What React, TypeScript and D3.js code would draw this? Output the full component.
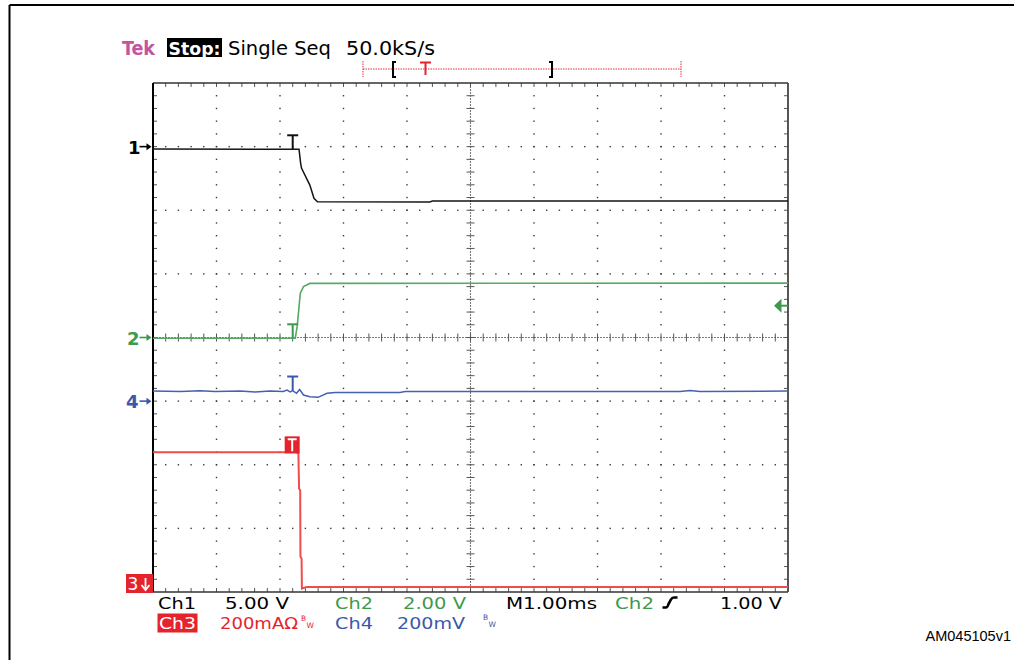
import React, { useEffect } from "react";
import * as d3 from "d3";

// ---- Data (oscilloscope capture, time in ms) ----
const ch1Time = [0, 2.3, 2.325, 2.34, 2.47, 2.535, 2.59, 4.36, 4.4, 10];
const ch1Volts = [-0.19, -0.21, -1.31, -1.71, -3.02, -4.06, -4.33, -4.35, -4.28, -4.28];

const ch2Time = [0, 2.24, 2.27, 2.3, 2.32, 2.37, 2.47, 10];
const ch2Volts = [-0.025, -0.025, 0.34, 0.97, 1.39, 1.6, 1.7, 1.71];

const ch3Time = [0, 2.26, 2.29, 2.3, 2.318, 2.322, 2.34, 2.345, 2.42, 10];
const ch3mA = [459, 459, 455, 345, 340, 131, 125, 31, 36, 36];

const ch4Time = [0, 0.43, 0.74, 0.98, 1.37, 1.61, 1.84, 2.05, 2.11, 2.16, 2.2, 2.26, 2.31, 2.37, 2.47, 2.6, 2.74, 2.87, 3.89, 3.97, 4.05, 8.3, 8.46, 8.61, 10];
const ch4mV = [31.7, 30.2, 32.4, 30.2, 31.7, 28.6, 31.7, 30.2, 34.9, 29.2, 33.3, 24.5, 36.5, 19.2, 13.8, 11.9, 24.5, 27, 27, 30.2, 30.2, 30.2, 33.3, 30.2, 31.7];

// channel scales (units per division) and ground positions (divisions from centre)
const channelScale = [5, 2, 200, 200];
const channelPos = [3.0, 0, -4.1, -1.0];
const triggerTimeMs = 2.2;
const triggerLevelV = 1.0;

const topLabels = ["Tek", "Stop:", "Single Seq", "50.0kS/s"];
const row1Labels = ["Ch1", "5.00 V", "Ch2", "2.00 V", "M1.00ms", "Ch2", "1.00 V"];
const row2Labels = ["Ch3", "200mA\u03A9", "Ch4", "200mV"];
const figureId = "AM045105v1";

const COLORS = {
  black: "#151515",
  green: "#3d9a4c",
  greenTrace: "#55aa64",
  blue: "#3d58a8",
  blueTrace: "#4561b2",
  red: "#e5232d",
  redTrace: "#f04c4e",
  tek: "#c4549e",
};

const X_DIVS = 10;
const Y_DIVS = 8;

export default function App() {
  useEffect(() => {
    document.body.style.margin = "0";
  }, []);

  const x = d3.scaleLinear().domain([0, X_DIVS]).range([153, 788]);
  const yDiv = d3.scaleLinear().domain([-Y_DIVS / 2, Y_DIVS / 2]).range([592, 83]);
  const chY = (ch: number, v: number) => yDiv(channelPos[ch] + v / channelScale[ch]);

  const mkLine = (ch: number, t: number[], v: number[]) =>
    d3
      .line<number>()
      .x((_, i) => x(t[i]))
      .y((d) => chY(ch, d))(v) || "";

  const interp = (t: number[], v: number[], tt: number) => {
    const s = d3.scaleLinear().domain(t).range(v);
    return s(tt);
  };

  const xT = x(triggerTimeMs);
  const y1T = chY(0, interp(ch1Time, ch1Volts, triggerTimeMs));
  const y2T = chY(1, interp(ch2Time, ch2Volts, triggerTimeMs));
  const y3T = chY(2, interp(ch3Time, ch3mA, triggerTimeMs));
  const y4T = chY(3, interp(ch4Time, ch4mV, triggerTimeMs));

  const cx = x(X_DIVS / 2);
  const cy = yDiv(0);
  const x0 = x(0), x1 = x(X_DIVS), yTop = yDiv(Y_DIVS / 2), yBot = yDiv(-Y_DIVS / 2);

  const minorX = d3.range(1, X_DIVS * 5).map((i) => i / 5);
  const minorY = d3.range(1, Y_DIVS * 5).map((i) => -Y_DIVS / 2 + i / 5);

  const dots: React.ReactNode[] = [];
  for (let k = 1; k < X_DIVS; k++) {
    if (k === X_DIVS / 2) continue;
    minorY.forEach((yy, j) =>
      dots.push(<rect key={`v${k}-${j}`} x={x(k) - 0.7} y={yDiv(yy) - 0.7} width={1.4} height={1.4} fill="#3a3a3a" />)
    );
  }
  for (let m = -Y_DIVS / 2 + 1; m < Y_DIVS / 2; m++) {
    if (m === 0) continue;
    minorX.forEach((xx, j) =>
      dots.push(<rect key={`h${m}-${j}`} x={x(xx) - 0.7} y={yDiv(m) - 0.7} width={1.4} height={1.4} fill="#3a3a3a" />)
    );
  }

  const ticks: React.ReactNode[] = [];
  minorX.forEach((xx, j) => {
    const px = x(xx);
    ticks.push(<line key={`tt${j}`} x1={px} x2={px} y1={yTop} y2={yTop + 4} />);
    ticks.push(<line key={`tb${j}`} x1={px} x2={px} y1={yBot} y2={yBot - 4} />);
    ticks.push(<line key={`tc${j}`} x1={px} x2={px} y1={cy - 4} y2={cy + 4} />);
  });
  minorY.forEach((yy, j) => {
    const py = yDiv(yy);
    ticks.push(<line key={`tl${j}`} x1={x0} x2={x0 + 4} y1={py} y2={py} />);
    ticks.push(<line key={`tr${j}`} x1={x1} x2={x1 - 4} y1={py} y2={py} />);
    ticks.push(<line key={`tm${j}`} x1={cx - 4} x2={cx + 4} y1={py} y2={py} />);
  });

  const sansC = "'DejaVu Sans Condensed', 'DejaVu Sans', sans-serif";
  const sans = "'DejaVu Sans', Verdana, sans-serif";
  const trigY = chY(1, triggerLevelV);

  const arrowRight = (ax: number, ay: number, color: string) => (
    <g>
      <line x1={ax} x2={ax + 9} y1={ay} y2={ay} stroke={color} strokeWidth={1.6} />
      <path d={`M${ax + 7},${ay - 3.5} L${ax + 12},${ay} L${ax + 7},${ay + 3.5} Z`} fill={color} />
    </g>
  );

  const tMarker = (ty: number, color: string) => (
    <g stroke={color} strokeWidth={2} fill="none">
      <line x1={xT - 5.5} x2={xT + 5.5} y1={ty - 14} y2={ty - 14} />
      <line x1={xT} x2={xT} y1={ty - 14} y2={ty} />
    </g>
  );

  return (
    <svg width={1014} height={660} style={{ position: "absolute", left: 0, top: 0, background: "#fff" }}>
      {/* outer frame */}
      <line x1={9.5} x2={1014} y1={5} y2={5} stroke="#000" strokeWidth={2} />
      <line x1={9.5} x2={9.5} y1={5} y2={660} stroke="#000" strokeWidth={2} />

      {/* header */}
      <text x={122} y={55} fontFamily={sansC} fontSize={20} fontWeight="bold" fill={COLORS.tek} textLength={33} lengthAdjust="spacingAndGlyphs">{topLabels[0]}</text>
      <rect x={167} y={38} width={55} height={19} fill="#000" />
      <text x={168.5} y={54.5} fontFamily={sansC} fontSize={18} fontWeight="bold" fill="#fff" textLength={52} lengthAdjust="spacingAndGlyphs">{topLabels[1]}</text>
      <text x={228} y={55} fontFamily={sansC} fontSize={19} fill="#000" textLength={103} lengthAdjust="spacingAndGlyphs">{topLabels[2]}</text>
      <text x={346} y={55} fontFamily={sansC} fontSize={19} fill="#000" textLength={89} lengthAdjust="spacingAndGlyphs">{topLabels[3]}</text>

      {/* record bracket */}
      <line x1={363} x2={681} y1={69} y2={69} stroke="#e0303a" strokeWidth={1} strokeDasharray="1.5 1" />
      <line x1={363} x2={363} y1={61} y2={77} stroke="#e0303a" strokeWidth={1} strokeDasharray="1.5 1" />
      <line x1={681} x2={681} y1={61} y2={77} stroke="#e0303a" strokeWidth={1} strokeDasharray="1.5 1" />
      <path d="M396,62 L393,62 L393,77 L396,77" stroke="#000" strokeWidth={2} fill="none" />
      <path d="M549,62 L552,62 L552,77 L549,77" stroke="#000" strokeWidth={2} fill="none" />
      <path d="M420,62.5 L431,62.5 M425.5,62.5 L425.5,75" stroke={COLORS.red} strokeWidth={2} fill="none" />

      {/* graticule */}
      {dots}
      <line x1={x0} x2={x1} y1={cy} y2={cy} stroke="#7a7a7a" strokeWidth={1.1} strokeDasharray="2 1" />
      <line x1={cx} x2={cx} y1={yTop} y2={yBot} stroke="#7a7a7a" strokeWidth={1.1} strokeDasharray="2 1" />
      <g stroke="#555" strokeWidth={1}>{ticks}</g>
      <line x1={x0} x2={x1} y1={yTop} y2={yTop} stroke="#333" strokeWidth={1.5} />
      <line x1={x0} x2={x1} y1={yBot} y2={yBot} stroke="#333" strokeWidth={1.5} />
      <line x1={x1} x2={x1} y1={yTop} y2={yBot} stroke="#444" strokeWidth={1.8} />
      <line x1={x0} x2={x0} y1={yTop} y2={yBot} stroke="#000" strokeWidth={2} />

      {/* traces */}
      <path d={mkLine(0, ch1Time, ch1Volts)} stroke={COLORS.black} strokeWidth={1.5} fill="none" />
      <path d={mkLine(1, ch2Time, ch2Volts)} stroke={COLORS.greenTrace} strokeWidth={1.6} fill="none" />
      <path d={mkLine(3, ch4Time, ch4mV)} stroke={COLORS.blueTrace} strokeWidth={1.5} fill="none" />
      <path d={mkLine(2, ch3Time, ch3mA)} stroke={COLORS.redTrace} strokeWidth={2} fill="none" />

      {/* trigger markers */}
      {tMarker(y1T, "#111")}
      {tMarker(y2T, COLORS.green)}
      {tMarker(y4T, COLORS.blue)}
      <rect x={xT - 8} y={y3T - 16} width={15} height={17} fill={COLORS.red} />
      <path d={`M${xT - 5},${y3T - 13} L${xT + 4},${y3T - 13} M${xT - 0.5},${y3T - 13} L${xT - 0.5},${y3T - 1}`} stroke="#fff" strokeWidth={2} fill="none" />

      {/* trigger level arrow */}
      <line x1={780} x2={788} y1={trigY} y2={trigY} stroke={COLORS.green} strokeWidth={2} />
      <path d={`M774,${trigY} L781.5,${trigY - 7} L781.5,${trigY + 7} Z`} fill={COLORS.green} />

      {/* channel ground markers */}
      <text x={128} y={chY(0, 0) + 7} fontFamily={sans} fontSize={18} fontWeight="bold" fill="#000">1</text>
      {arrowRight(139.5, chY(0, 0), "#000")}
      <text x={127} y={chY(1, 0) + 7} fontFamily={sans} fontSize={18} fontWeight="bold" fill={COLORS.green}>2</text>
      {arrowRight(139.5, chY(1, 0), COLORS.green)}
      <text x={126} y={chY(3, 0) + 7} fontFamily={sans} fontSize={18} fontWeight="bold" fill={COLORS.blue}>4</text>
      {arrowRight(139.5, chY(3, 0), COLORS.blue)}
      <rect x={126} y={574} width={27} height={19} fill={COLORS.red} />
      <text x={127.5} y={590} fontFamily={sans} fontSize={17} fill="#fff">3</text>
      <path d="M145.5,578 L145.5,589 M141.5,585 L145.5,590 L149.5,585" stroke="#fff" strokeWidth={1.8} fill="none" />

      {/* bottom readouts row 1 */}
      <g fontFamily={sans} fontSize={16.5}>
        <text x={158} y={608.5} fill="#000" textLength={38} lengthAdjust="spacingAndGlyphs">{row1Labels[0]}</text>
        <text x={225} y={608.5} fill="#000" textLength={64} lengthAdjust="spacingAndGlyphs">{row1Labels[1]}</text>
        <text x={335} y={608.5} fill={COLORS.green} textLength={38} lengthAdjust="spacingAndGlyphs">{row1Labels[2]}</text>
        <text x={403} y={608.5} fill={COLORS.green} textLength={63} lengthAdjust="spacingAndGlyphs">{row1Labels[3]}</text>
        <text x={506} y={608.5} fill="#000" textLength={91} lengthAdjust="spacingAndGlyphs">{row1Labels[4]}</text>
        <text x={615} y={608.5} fill={COLORS.green} textLength={39} lengthAdjust="spacingAndGlyphs">{row1Labels[5]}</text>
        <text x={720} y={608.5} fill="#000" textLength={62} lengthAdjust="spacingAndGlyphs">{row1Labels[6]}</text>
      </g>
      <path d="M662.5,607.5 L666,607.5 Q667.5,607.5 668.5,604 L671,599.5 Q672,597.5 674,597.5 L677.5,597.5" stroke="#000" strokeWidth={2.6} fill="none" />

      {/* bottom readouts row 2 */}
      <rect x={157.5} y={613.5} width={40} height={19} fill={COLORS.red} />
      <g fontFamily={sans} fontSize={16.5}>
        <text x={159} y={628.5} fill="#fff" textLength={37} lengthAdjust="spacingAndGlyphs">{row2Labels[0]}</text>
        <text x={220} y={628.5} fill={COLORS.red} textLength={78} lengthAdjust="spacingAndGlyphs">{row2Labels[1]}</text>
        <text x={335} y={628.5} fill={COLORS.blue} textLength={38} lengthAdjust="spacingAndGlyphs">{row2Labels[2]}</text>
        <text x={397} y={628.5} fill={COLORS.blue} textLength={68} lengthAdjust="spacingAndGlyphs">{row2Labels[3]}</text>
      </g>
      <g fontFamily={sans} fontSize={7.5}>
        <text x={301} y={620.5} fill={COLORS.red}>B</text>
        <text x={306.5} y={628} fill={COLORS.red}>W</text>
        <text x={483} y={620} fill={COLORS.blue}>B</text>
        <text x={488.5} y={627} fill={COLORS.blue}>W</text>
      </g>

      <text x={1011} y={641} textAnchor="end" fontFamily="'Liberation Sans', Arial, sans-serif" fontSize={14.5} fill="#000">{figureId}</text>
    </svg>
  );
}
